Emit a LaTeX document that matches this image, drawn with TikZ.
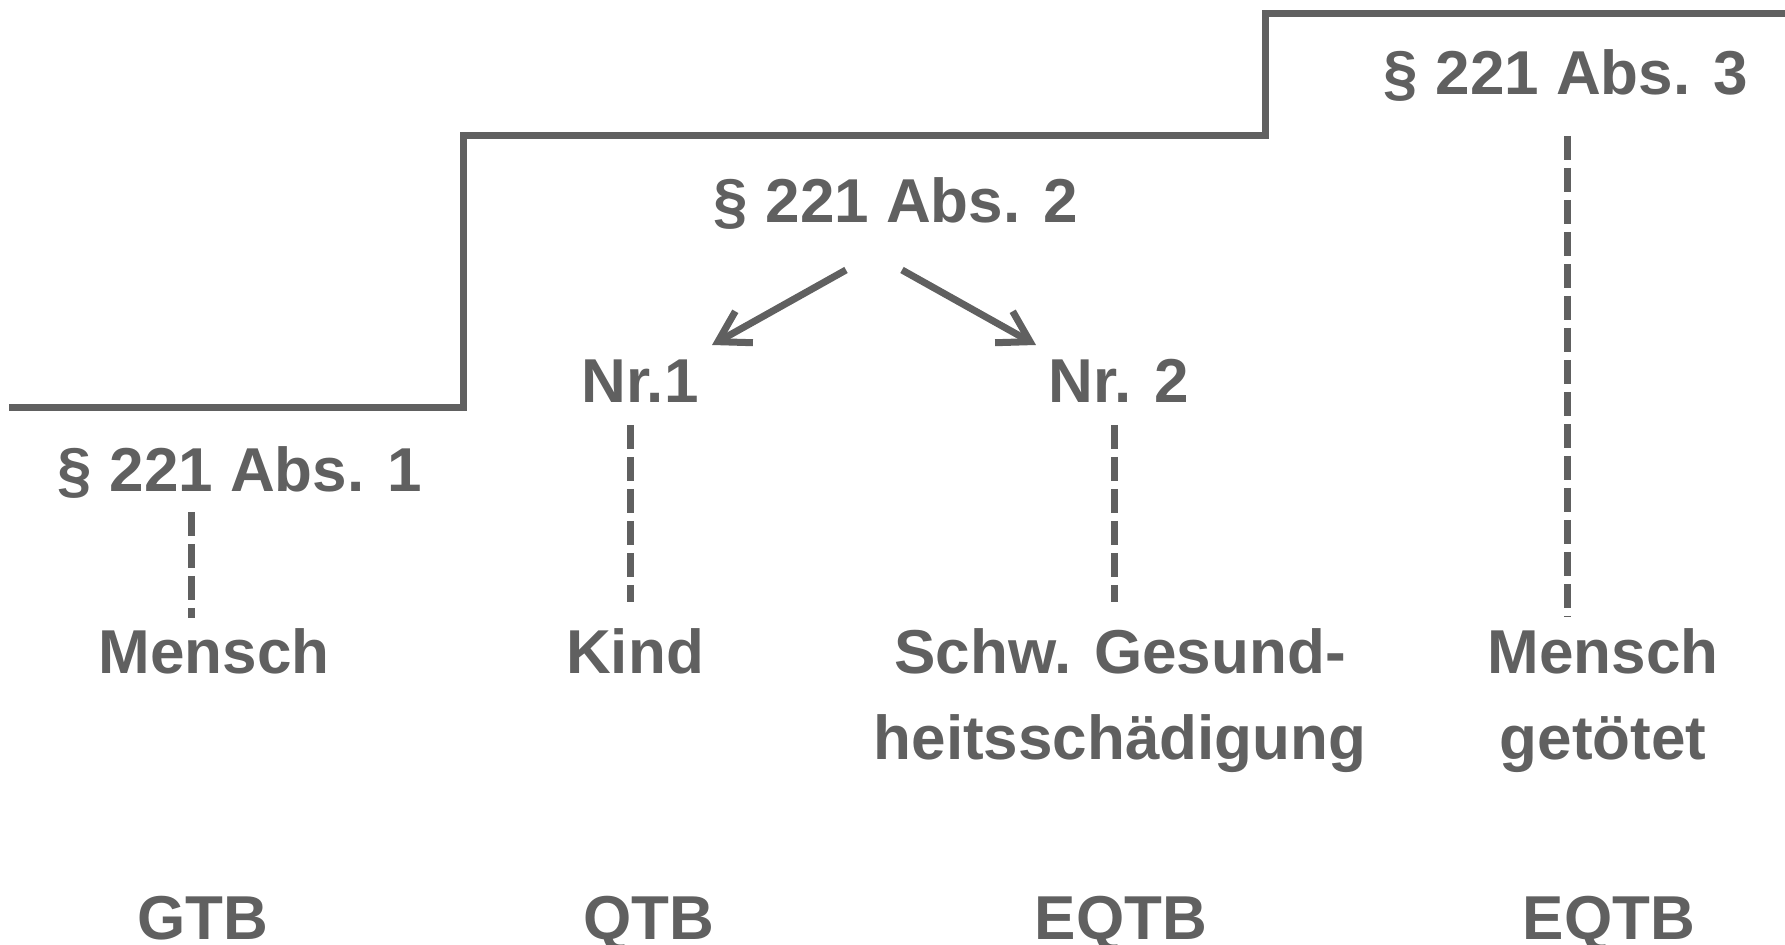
\documentclass[tikz,border=0pt]{standalone}
\usepackage{fontspec}
\setmainfont{Liberation Sans}
\usetikzlibrary{arrows.meta}
\definecolor{ink}{RGB}{96,96,96}
\begin{document}
\begin{tikzpicture}[x=0.5pt,y=-0.5pt,
  lbl/.style={font=\fontsize{31}{43.25}\selectfont\bfseries, text=ink, inner sep=0pt, anchor=base, align=center},
  stair/.style={draw=ink, line width=3.5pt},
  dashln/.style={draw=ink, line width=3.5pt, dash pattern=on 12pt off 4pt},
  arr/.style={draw=ink, line width=3.5pt, -{Straight Barb[length=15pt,width=18pt]}}]
\useasboundingbox (0,0) rectangle (1785,945);
% staircase
\draw[stair] (9,407.5) -- (463,407.5) -- (463,136) -- (1265,136) -- (1265,13.5) -- (1790,13.5);
% labels
\node[lbl] (abs1) at (240,492) {§ 221 Abs. 1};
\node[lbl] (abs2) at (896,223) {§ 221 Abs. 2};
\node[lbl] (abs3) at (1566,94.5) {§ 221 Abs. 3};
\node[lbl] (nr1) at (640,403) {Nr.1};
\node[lbl] (nr2) at (1119,403) {Nr. 2};
\node[lbl] (mensch) at (214,674) {Mensch};
\node[lbl] (kind) at (635,674) {Kind};
\node[lbl] (schw) at (1120,760) {Schw. Gesund-\\heitsschädigung};
\node[lbl] (getoetet) at (1603,760) {Mensch\\getötet};
\node[lbl] (gtb) at (203,940) {GTB};
\node[lbl] (qtb) at (649,940) {QTB};
\node[lbl] (eqtba) at (1121,940) {EQTB};
\node[lbl] (eqtbb) at (1609,940) {EQTB};
% dashed connector ends
\coordinate (d1a) at (191,512);  \coordinate (d1b) at (191,618);
\coordinate (d2a) at (630,425);  \coordinate (d2b) at (630,602);
\coordinate (d3a) at (1114,425); \coordinate (d3b) at (1114,602);
\coordinate (d4a) at (1567,136); \coordinate (d4b) at (1567,617);
\draw[dashln] (d1a) -- (d1b);
\draw[dashln] (d2a) -- (d2b);
\draw[dashln] (d3a) -- (d3b);
\draw[dashln] (d4a) -- (d4b);
% arrows
\coordinate (a1s) at (846,270); \coordinate (a1e) at (712,345);
\coordinate (a2s) at (902,270); \coordinate (a2e) at (1036,345);
\draw[arr] (a1s) -- (a1e);
\draw[arr] (a2s) -- (a2e);
\end{tikzpicture}
\end{document}
